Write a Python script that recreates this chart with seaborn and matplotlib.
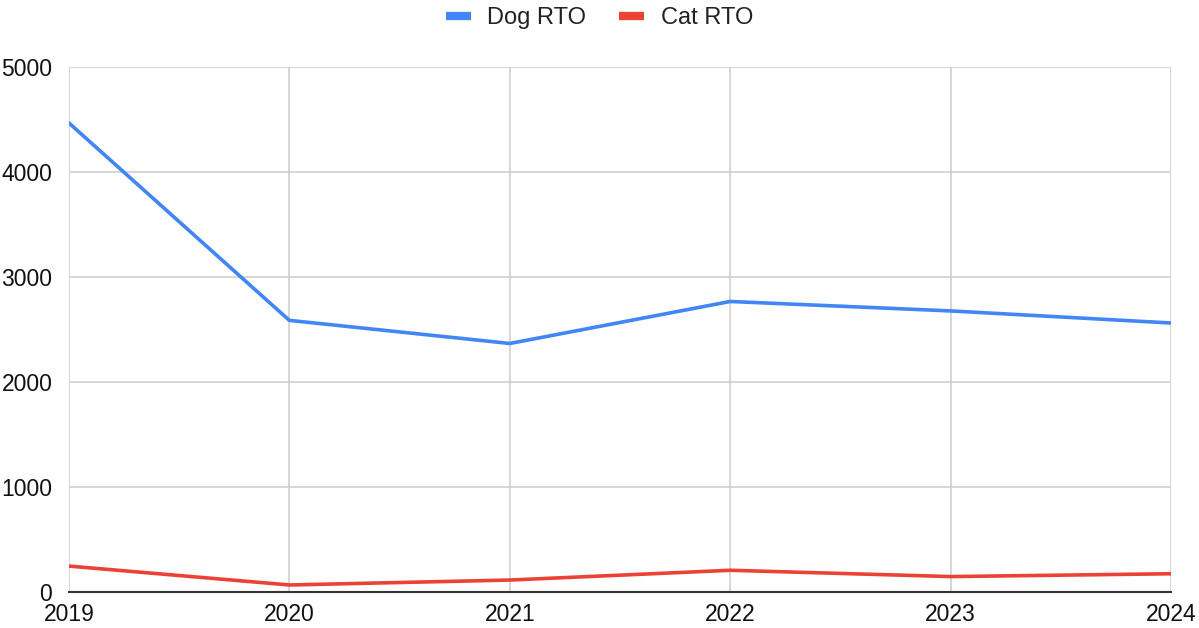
import pandas as pd
import matplotlib.pyplot as plt
import seaborn as sns

years = [2019, 2020, 2021, 2022, 2023, 2024]
dog_rto = [4470, 2590, 2370, 2770, 2680, 2565]
cat_rto = [250, 70, 117, 210, 150, 177]
series_names = ['Dog RTO', 'Cat RTO']
colors = ['#4285F4', '#EA4335']

df = pd.DataFrame({
    'year': years * 2,
    'value': dog_rto + cat_rto,
    'series': [series_names[0]] * len(years) + [series_names[1]] * len(years),
})

sns.set_style('white')
plt.rcParams['font.family'] = ['Liberation Sans', 'DejaVu Sans']

fig = plt.figure(figsize=(11.99, 6.28), dpi=100)
ax = fig.add_axes([0.0575, 0.0568, 0.9192, 0.836])

sns.lineplot(data=df, x='year', y='value', hue='series', palette=colors,
             linewidth=2.6, ax=ax, legend=False, zorder=3)

ax.set_xlim(2019, 2024)
ax.set_ylim(0, 5000)
ax.set_xticks(years)
ax.set_yticks([0, 1000, 2000, 3000, 4000, 5000])
ax.grid(True, color='#cccccc', linewidth=1.1, zorder=0)
ax.set_axisbelow(True)
for s in ['top', 'right', 'left']:
    ax.spines[s].set_visible(False)
ax.spines['bottom'].set_color('#333333')
ax.spines['bottom'].set_linewidth(1.5)
ax.spines['bottom'].set_zorder(4)
ax.tick_params(axis='both', length=0, labelsize=16.5, colors='#111111')
ax.tick_params(axis='y', pad=12)
ax.tick_params(axis='x', pad=8)
ax.set_xlabel('')
ax.set_ylabel('')

handles = [plt.Line2D([], [], color=c, linewidth=6, solid_capstyle='butt') for c in colors]
fig.legend(handles, series_names, loc='upper center', bbox_to_anchor=(0.5, 1.022),
           ncol=2, frameon=False, fontsize=17, handlelength=1.05,
           columnspacing=1.4, handletextpad=0.7, labelcolor='#222222')

fig.savefig('out.png', dpi=100)
